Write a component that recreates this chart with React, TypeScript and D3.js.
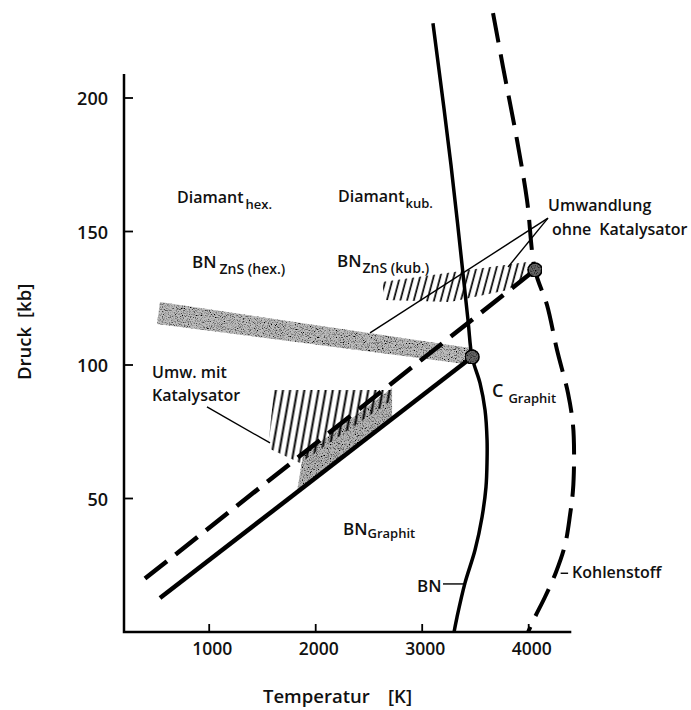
import React from "react";
import * as d3 from "d3";

// Axis ticks
const tempTicks = [1000, 2000, 3000, 4000];
const pressureTicks = [50, 100, 150, 200];

// Melting curve of BN: [T in K, p in kb]
const bnMelting: [number, number][] = [
  [3101, 228], [3270, 175], [3430, 116.8], [3468, 103], [3543, 93.2], [3590, 83.1],
  [3609, 71.9], [3609, 64.4], [3599, 54.3], [3562, 43.1], [3496, 30.7],
  [3402, 18.4], [3327, 5.6], [3299, 0],
];

// Melting curve of carbon (Kohlenstoff)
const carbonMelting: [number, number][] = [
  [3665, 231.8], [3759, 211.6], [3890, 184.3], [3984, 161.8], [4059, 135.6],
  [4172, 122.5], [4266, 105.6], [4369, 89.5], [4416, 77.5], [4426, 67.0],
  [4416, 53.2], [4388, 43.8], [4341, 32.6], [4257, 22.5], [4153, 13.1],
  [4059, 5.6], [3994, 0],
];

// Graphite / dense-phase equilibrium lines
const bnTransition: [number, number][] = [[538, 12.7], [3468, 103]];
const carbonTransition: [number, number][] = [[397, 20], [4059, 135.6]];

// Triple points
const triplePoints: [number, number][] = [[3468, 103], [4059, 135.6]];

// Region of BN ZnS (hex.) formation
const bnHexBand: [number, number][] = [[538, 123.6], [510, 115.4], [3402, 100.4], [3449, 106.4]];
// Conversion with catalyst
const catalystGray: [number, number][] = [[1824, 52.4], [1881, 66.3], [2717, 91.4], [2717, 79.8]];
const catalystHatch: [number, number][] = [[1609, 90.6], [2717, 90.6], [2717, 86.9], [1853, 63.3], [1552, 68.9]];
// Conversion without catalyst
const noCatalystHatch: [number, number][] = [[2623, 131.1], [3984, 138.6], [4031, 134.8], [3806, 128.1], [3261, 123.6], [2651, 124.3]];

// Leader lines for the annotations
const leaders: [number, number][][] = [
  [[4181, 155], [2510, 112]],
  [[4181, 155], [3806, 136.7]],
  [[979, 84.3], [1571, 70.8]],
  [[3195, 18], [3402, 18]],
  [[4300, 22], [4370, 22]],
];

const W = 691;
const H = 710;

export default function App() {
  const x = d3.scaleLinear().domain([200, 4400]).range([124, 571.3]);
  const y = d3.scaleLinear().domain([0, 209]).range([632, 73.97]);

  const straight = d3.line<[number, number]>().x((d) => x(d[0])).y((d) => y(d[1]));
  const smooth = d3
    .line<[number, number]>()
    .x((d) => x(d[0]))
    .y((d) => y(d[1]))
    .curve(d3.curveCatmullRom.alpha(0.5));
  const poly = (pts: [number, number][]) => straight(pts) + "Z";

  const font = "'Open Sans', 'DejaVu Sans', sans-serif";
  const x0 = x(200);
  const y0 = y(0);

  return (
    <svg
      width={W}
      height={H}
      style={{ position: "absolute", left: 0, top: 0, background: "#fff" }}
      fontFamily={font}
      fill="#111"
    >
      <defs>
        <filter id="grain" x="0" y="0" width="100%" height="100%">
          <feTurbulence type="fractalNoise" baseFrequency="0.85" numOctaves="2" seed="7" result="noise" />
          <feColorMatrix
            in="noise"
            type="matrix"
            values="0 0 0 0 0  0 0 0 0 0  0 0 0 0 0  -3.2 0 0 0 1.75"
            result="specks"
          />
          <feComposite in="specks" in2="SourceGraphic" operator="in" result="clipped" />
          <feMerge>
            <feMergeNode in="SourceGraphic" />
            <feMergeNode in="clipped" />
          </feMerge>
        </filter>
        <pattern
          id="hatch"
          width="7"
          height="20"
          patternUnits="userSpaceOnUse"
          patternTransform="rotate(10)"
        >
          <line x1="3.5" y1="0" x2="3.5" y2="20" stroke="#000" strokeWidth="2" />
        </pattern>
        <pattern
          id="hatchFine"
          width="6.5"
          height="20"
          patternUnits="userSpaceOnUse"
          patternTransform="rotate(15)"
        >
          <line x1="3" y1="0" x2="3" y2="20" stroke="#000" strokeWidth="1.7" />
        </pattern>
      </defs>

      {/* shaded regions */}
      <path d={poly(bnHexBand)} fill="#bdbdbd" filter="url(#grain)" />
      <path d={poly(catalystGray)} fill="#b5b5b5" filter="url(#grain)" />
      <path d={poly(catalystHatch)} fill="url(#hatch)" />
      <path d={poly(noCatalystHatch)} fill="url(#hatchFine)" />

      {/* axes */}
      <path
        d={`M${x0},${y(209)}V${y0}H${x(4400)}`}
        fill="none"
        stroke="#000"
        strokeWidth={2.5}
      />
      {tempTicks.map((t) => (
        <g key={t}>
          <line x1={x(t)} x2={x(t)} y1={y0} y2={y0 - 8} stroke="#000" strokeWidth={1.8} />
          <text x={x(t) + 3} y={655} textAnchor="middle" fontSize={17.5} fontWeight={600}>
            {t}
          </text>
        </g>
      ))}
      {pressureTicks.map((p) => (
        <g key={p}>
          <line x1={x0} x2={x0 + 9} y1={y(p)} y2={y(p)} stroke="#000" strokeWidth={1.8} />
          <text x={108} y={y(p) + 7} textAnchor="end" fontSize={18} fontWeight={600}>
            {p}
          </text>
        </g>
      ))}

      {/* axis titles */}
      <text y={703} fontSize={18.5} fontWeight={600}>
        <tspan x={263}>Temperatur</tspan>
        <tspan x={388}>[K]</tspan>
      </text>
      <g transform="translate(31,380) rotate(-90)">
        <text fontSize={18.5} fontWeight={600}>
          <tspan x={0}>Druck</tspan>
          <tspan x={62}>[kb]</tspan>
        </text>
      </g>

      {/* equilibrium lines */}
      <path d={straight(bnTransition)!} fill="none" stroke="#000" strokeWidth={4.5} />
      <path
        d={straight(carbonTransition)!}
        fill="none"
        stroke="#000"
        strokeWidth={4.5}
        strokeDasharray="28 11"
      />
      <path d={smooth(bnMelting)!} fill="none" stroke="#000" strokeWidth={3.5} />
      <path
        d={smooth(carbonMelting)!}
        fill="none"
        stroke="#000"
        strokeWidth={4}
        strokeDasharray="30 12"
      />

      {/* leader lines */}
      {leaders.map((l, i) => (
        <path key={i} d={straight(l)!} fill="none" stroke="#000" strokeWidth={1.4} />
      ))}

      {/* triple points */}
      {triplePoints.map((d, i) => (
        <circle
          key={i}
          cx={x(d[0])}
          cy={y(d[1])}
          r={7}
          fill="#666"
          filter="url(#grain)"
          stroke="#000"
          strokeWidth={1.5}
        />
      ))}

      {/* region labels */}
      <g fontWeight={600}>
        <text x={177} y={203} fontSize={16}>
          Diamant<tspan dx={2} dy={6} fontSize={13}>hex.</tspan>
        </text>
        <text x={338} y={202} fontSize={16}>
          Diamant<tspan dx={1} dy={6} fontSize={13}>kub.</tspan>
        </text>
        <text x={192} y={268} fontSize={17}>
          BN<tspan dx={3} dy={6} fontSize={14}>ZnS (hex.)</tspan>
        </text>
        <text x={337} y={267} fontSize={17}>
          BN<tspan dx={1} dy={6} fontSize={14}>ZnS (kub.)</tspan>
        </text>
        <text x={548} y={211} fontSize={16}>Umwandlung</text>
        <text x={552} y={235} fontSize={16}>
          ohne<tspan dx={8}>Katalysator</tspan>
        </text>
        <text x={152} y={378} fontSize={16}>Umw. mit</text>
        <text x={152} y={401} fontSize={16}>Katalysator</text>
        <text x={492} y={397} fontSize={18}>
          C<tspan dx={5} dy={6} fontSize={13}>Graphit</tspan>
        </text>
        <text x={343} y={535} fontSize={17}>
          BN<tspan dx={0} dy={3} fontSize={13}>Graphit</tspan>
        </text>
        <text x={417} y={592} fontSize={17}>BN</text>
        <text x={572} y={578} fontSize={16}>Kohlenstoff</text>
      </g>
    </svg>
  );
}
